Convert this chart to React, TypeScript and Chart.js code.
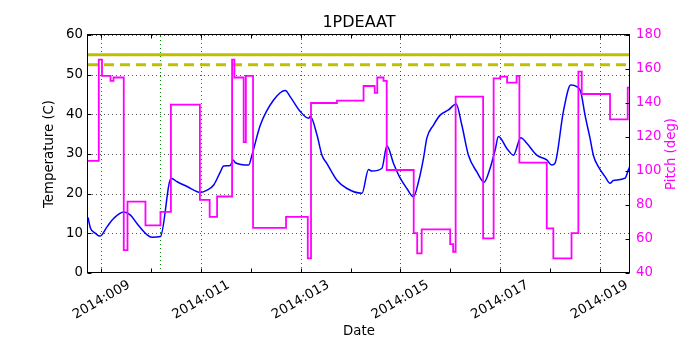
import React, { useEffect, useRef } from 'react';
import { Chart, registerables } from 'chart.js';

Chart.register(...registerables);

const TITLE = '1PDEAAT';
const X_LABEL = 'Date';
const Y_LEFT_LABEL = 'Temperature (C)';
const Y_RIGHT_LABEL = 'Pitch (deg)';
const YEAR = '2014';
const X_MIN = 8.729;
const X_MAX = 19.612;

const tempDays = [8.729, 8.779, 8.880, 8.966, 9.114, 9.247, 9.447, 9.582, 9.716, 9.917, 10.017, 10.184, 10.398, 10.519, 10.719, 10.986, 11.120, 11.253, 11.387, 11.453, 11.588, 11.642, 11.688, 11.955, 12.023, 12.190, 12.456, 12.691, 12.791, 12.992, 13.158, 13.192, 13.327, 13.427, 13.527, 13.728, 13.929, 14.230, 14.362, 14.430, 14.631, 14.731, 14.864, 14.998, 15.132, 15.265, 15.365, 15.465, 15.533, 15.666, 15.800, 15.967, 16.121, 16.235, 16.368, 16.536, 16.683, 16.803, 16.904, 16.970, 17.139, 17.271, 17.419, 17.540, 17.740, 17.941, 18.041, 18.107, 18.274, 18.422, 18.542, 18.623, 18.709, 18.809, 18.876, 18.976, 19.110, 19.211, 19.277, 19.512, 19.579, 19.612];
const tempValues = [14.0, 11.3, 10.0, 9.3, 11.7, 13.8, 15.4, 14.6, 12.4, 9.6, 9.0, 9.2, 23.9, 23.0, 21.8, 20.3, 20.9, 22.2, 25.5, 27.0, 27.1, 28.5, 27.8, 27.2, 29.8, 37.3, 43.6, 46.0, 44.4, 40.7, 39.0, 39.5, 34.8, 29.7, 27.6, 23.4, 21.3, 20.1, 26.1, 25.7, 26.4, 32.1, 27.6, 23.9, 21.3, 19.2, 23.0, 28.9, 34.0, 37.3, 39.8, 41.1, 42.6, 37.3, 29.7, 25.5, 22.9, 26.4, 31.0, 34.4, 31.4, 29.7, 34.1, 32.7, 29.7, 28.5, 27.2, 27.7, 40.7, 47.4, 47.0, 45.7, 39.8, 34.0, 29.7, 26.8, 24.3, 22.6, 23.3, 23.9, 26.0, 27.0];

const pitchDays = [8.729, 8.946, 9.010, 9.181, 9.241, 9.447, 9.522, 9.883, 10.184, 10.394, 10.976, 11.172, 11.321, 11.622, 11.668, 11.855, 11.899, 12.043, 12.705, 13.142, 13.207, 13.728, 14.262, 14.486, 14.537, 14.663, 14.727, 15.269, 15.339, 15.429, 16.001, 16.061, 16.111, 16.663, 16.874, 17.004, 17.144, 17.335, 17.391, 17.941, 18.073, 18.438, 18.575, 18.643, 19.211, 19.566, 19.612];
const pitchValues = [106, 165.5, 156, 153, 155, 53.5, 82, 68, 76, 139, 83, 73, 85, 165.5, 155, 117, 156, 66.6, 73, 48.6, 140, 141.4, 150, 146, 155, 153, 100.6, 63.4, 51.6, 65.7, 57, 52.5, 143.7, 60.4, 154.5, 155.5, 152, 156, 104.9, 66.3, 48.6, 63.4, 158.4, 145.3, 130.4, 149, 149];

const limitHigh = 55;
const limitPlan = 52.5;
const markerDay = 10.184;

const FONT = 'DejaVu Sans';
const MAGENTA = '#ff00ff';
const OLIVE = '#bfbf00';

const isMajor = (v: number) => Math.round(v) % 2 === 1;

const decor = {
  id: 'decor',
  beforeDatasetsDraw(chart: any) {
    const { ctx, chartArea: a, scales } = chart;
    const xs = scales.x;
    const ys = scales.y;
    ctx.save();
    ctx.beginPath();
    ctx.rect(a.left, a.top, a.right - a.left, a.bottom - a.top);
    ctx.clip();
    ctx.setLineDash([1, 3]);
    ctx.strokeStyle = 'rgba(0,0,0,0.85)';
    ctx.lineWidth = 0.8;
    xs.ticks.forEach((t: any) => {
      if (!isMajor(t.value)) return;
      const px = Math.round(xs.getPixelForValue(t.value)) + 0.5;
      ctx.beginPath();
      ctx.moveTo(px, a.top);
      ctx.lineTo(px, a.bottom);
      ctx.stroke();
    });
    ys.ticks.forEach((t: any) => {
      const py = Math.round(ys.getPixelForValue(t.value)) + 0.5;
      ctx.beginPath();
      ctx.moveTo(a.left, py);
      ctx.lineTo(a.right, py);
      ctx.stroke();
    });
    ctx.restore();
  },
  afterDatasetsDraw(chart: any) {
    const { ctx, chartArea: a, scales } = chart;
    const xs = scales.x;
    const ys = scales.y;
    const y2 = scales.y2;
    ctx.save();
    ctx.setLineDash([]);
    ctx.strokeStyle = '#000';
    ctx.lineWidth = 1;
    const L = Math.round(a.left) - 0.5;
    const R = Math.round(a.right) - 0.5;
    const T = Math.round(a.top) - 0.5;
    const B = Math.round(a.bottom) - 0.5;
    ctx.strokeRect(L, T, R - L, B - T);
    const tl = 4;
    ctx.beginPath();
    xs.ticks.forEach((t: any) => {
      const px = Math.round(xs.getPixelForValue(t.value)) + 0.5;
      ctx.moveTo(px, B);
      ctx.lineTo(px, B - tl);
      ctx.moveTo(px, T);
      ctx.lineTo(px, T + tl);
    });
    ys.ticks.forEach((t: any) => {
      const py = Math.round(ys.getPixelForValue(t.value)) + 0.5;
      ctx.moveTo(L, py);
      ctx.lineTo(L + tl, py);
    });
    y2.ticks.forEach((t: any) => {
      const py = Math.round(y2.getPixelForValue(t.value)) + 0.5;
      ctx.moveTo(R, py);
      ctx.lineTo(R - tl, py);
    });
    ctx.stroke();

    // x tick labels
    ctx.fillStyle = '#000';
    ctx.font = `13.3px "${FONT}"`;
    ctx.textAlign = 'center';
    ctx.textBaseline = 'middle';
    xs.ticks.forEach((t: any) => {
      if (!isMajor(t.value)) return;
      const px = xs.getPixelForValue(t.value);
      const label = `${YEAR}:${String(Math.round(t.value)).padStart(3, '0')}`;
      ctx.save();
      ctx.translate(px, 300);
      ctx.rotate(-Math.PI / 6);
      ctx.fillText(label, 0, 0);
      ctx.restore();
    });

    const cx = (a.left + a.right) / 2;
    const cy = (a.top + a.bottom) / 2;
    ctx.fillText(X_LABEL, cx, 332);

    ctx.save();
    ctx.translate(50, cy);
    ctx.rotate(-Math.PI / 2);
    ctx.fillText(Y_LEFT_LABEL, 0, 0);
    ctx.restore();

    ctx.save();
    ctx.fillStyle = MAGENTA;
    ctx.translate(672, cy);
    ctx.rotate(-Math.PI / 2);
    ctx.fillText(Y_RIGHT_LABEL, 0, 0);
    ctx.restore();

    ctx.font = `16px "${FONT}"`;
    ctx.textBaseline = 'alphabetic';
    ctx.fillText(TITLE, cx, 27);
    ctx.restore();
  },
};

export default function App() {
  const ref = useRef<HTMLCanvasElement | null>(null);

  useEffect(() => {
    if (!ref.current) return;
    const chart = new Chart(ref.current, {
      type: 'line',
      data: {
        datasets: [
          {
            label: 'Pitch',
            data: pitchDays.map((d, i) => ({ x: d, y: pitchValues[i] })),
            yAxisID: 'y2',
            borderColor: MAGENTA,
            borderWidth: 1.8,
            pointRadius: 0,
            stepped: true,
            order: 0,
          },
          {
            label: 'Temperature',
            data: tempDays.map((d, i) => ({ x: d, y: tempValues[i] })),
            yAxisID: 'y',
            borderColor: '#0000ff',
            borderWidth: 1.5,
            pointRadius: 0,
            cubicInterpolationMode: 'monotone',
            order: 1,
          },
          {
            label: 'Limit',
            data: [{ x: X_MIN, y: limitHigh }, { x: X_MAX, y: limitHigh }],
            yAxisID: 'y',
            borderColor: OLIVE,
            borderWidth: 3,
            pointRadius: 0,
            order: 2,
          },
          {
            label: 'Planning limit',
            data: [{ x: X_MIN, y: limitPlan }, { x: X_MAX, y: limitPlan }],
            yAxisID: 'y',
            borderColor: OLIVE,
            borderWidth: 3,
            borderDash: [10, 6],
            pointRadius: 0,
            order: 3,
          },
          {
            label: 'Marker',
            data: [{ x: markerDay, y: 0 }, { x: markerDay, y: 60 }],
            yAxisID: 'y',
            borderColor: '#008000',
            borderWidth: 1,
            borderDash: [1, 3],
            pointRadius: 0,
            order: 4,
          },
        ],
      },
      options: {
        animation: false,
        responsive: false,
        events: [],
        layout: { padding: { top: 35, left: 0, right: 0, bottom: 0 } },
        plugins: { legend: { display: false }, tooltip: { enabled: false }, title: { display: false } },
        scales: {
          x: {
            type: 'linear',
            min: X_MIN,
            max: X_MAX,
            ticks: { stepSize: 1, includeBounds: false, display: false, autoSkip: false },
            grid: { display: false, drawTicks: false },
            border: { display: false },
            afterFit: (s: any) => { s.height = 77; },
          },
          y: {
            type: 'linear',
            position: 'left',
            min: 0,
            max: 60,
            ticks: { stepSize: 10, color: '#000', padding: 5, font: { family: FONT, size: 13.3 } },
            grid: { display: false, drawTicks: false },
            border: { display: false },
            afterFit: (s: any) => { s.width = 88; },
          },
          y2: {
            type: 'linear',
            position: 'right',
            min: 40,
            max: 180,
            ticks: { stepSize: 20, color: MAGENTA, padding: 6, font: { family: FONT, size: 13.3 } },
            grid: { display: false, drawTicks: false },
            border: { display: false },
            afterFit: (s: any) => { s.width = 70; },
          },
        },
      } as any,
      plugins: [decor],
    });
    return () => chart.destroy();
  }, []);

  return (
    <div style={{ position: 'fixed', left: 0, top: 0, width: 700, height: 350, background: '#fff' }}>
      <canvas ref={ref} width={700} height={350} style={{ display: 'block' }} />
    </div>
  );
}
